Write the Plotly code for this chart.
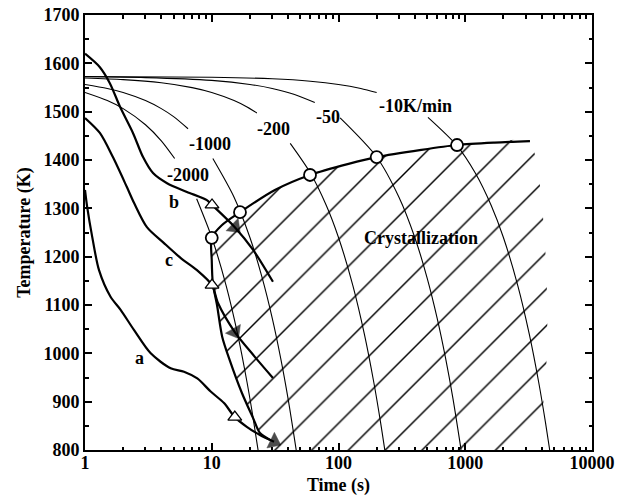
import math
import plotly.graph_objects as go

FONT = "Liberation Serif"

# ---- constant-rate cooling curves (thin), split where the labels sit ----
r2000_up_t = [1, 1.5, 2, 3, 4, 5.1]
r2000_up_T = [1539.7, 1523, 1506.3, 1473, 1439.7, 1403]
r2000_lo_t = [7.6, 10, 13, 16, 19, 21, 23.2]
r2000_lo_T = [1319.7, 1239.7, 1139.7, 1039.7, 939.7, 873, 799.7]

r1000_up_t = [1, 1.5, 2, 3, 4, 5, 6.5]
r1000_up_T = [1556.3, 1548, 1539.7, 1523, 1506.3, 1489.7, 1464.7]
r1000_lo_t = [10.2, 15, 20, 25, 30, 35, 40, 46.4]
r1000_lo_T = [1403, 1323, 1239.7, 1156.3, 1073, 989.7, 906.3, 799.7]

r200_up_t = [1, 2, 4, 7, 10, 15, 19, 22.7]
r200_up_T = [1569.7, 1566.3, 1559.7, 1549.7, 1539.7, 1523, 1509.7, 1497.3]
r200_lo_t = [41.6, 60, 80, 100, 130, 160, 190, 215, 232]
r200_lo_T = [1434.3, 1373, 1306.3, 1239.7, 1139.7, 1039.7, 939.7, 856.3, 799.7]

r50_up_t = [1, 3, 10, 20, 30, 45, 65]
r50_up_T = [1572.2, 1570.5, 1564.7, 1556.3, 1548, 1535.5, 1518.8]
r50_lo_t = [103, 200, 300, 400, 500, 600, 700, 800, 927]
r50_lo_T = [1487.2, 1406.3, 1323, 1239.7, 1156.3, 1073, 989.7, 906.3, 800.5]

r10_up_t = [1, 10, 30, 60, 100, 150, 200]
r10_up_T = [1572.8, 1571.3, 1568, 1563, 1556.3, 1548, 1539.7]
r10_lo_t = [508, 860, 1200, 1600, 2000, 2600, 3200, 3800, 4300, 4638]
r10_lo_T = [1488.3, 1429.7, 1373, 1306.3, 1239.7, 1139.7, 1039.7, 939.7, 856.3, 800]

# ---- crystallization start curve (thick) ----
cryst_t = [28.8, 24.0, 21.2, 17.3, 13.9, 12.1, 11.0, 10.2, 10.0, 10.0, 12.0, 16.7,
           31.5, 59.6, 120, 200, 450, 861, 1700, 3240]
cryst_T = [821, 835, 866, 918, 985, 1034, 1100, 1145, 1193, 1239, 1265, 1292,
           1338, 1369, 1392, 1406, 1421, 1431, 1436, 1439]

circ_t = [10.0, 16.7, 59.6, 200, 861]
circ_T = [1239, 1292, 1369, 1406, 1431]

# ---- measured cooling curves a, b, c (thick) ----
a_t = [1, 1.04, 1.14, 1.29, 1.59, 1.91, 2.44, 3.3, 4.74, 6.04, 7.69, 9.81, 12.5, 15.2, 18.9, 24, 31]
a_T = [1338, 1303, 1241, 1172, 1117, 1090, 1048, 1000, 969, 962, 948, 921, 897, 868, 848, 831, 817]
b_t = [1, 1.31, 1.57, 1.89, 2.39, 2.87, 3.44, 4.44, 6.37, 9.15, 10.05, 15.2, 21.2, 30.4]
b_T = [1620, 1592, 1559, 1510, 1456, 1406, 1373, 1352, 1334, 1317, 1307, 1261, 1214, 1148]
c_t = [1, 1.31, 1.66, 2.14, 2.44, 3.08, 4.2, 5.7, 7.65, 10.05, 11.2, 15.2, 21.2, 30.4]
c_T = [1487, 1456, 1406, 1344, 1311, 1261, 1228, 1197, 1172, 1141, 1104, 1044, 997, 949]

# index of open triangle (onset) and filled arrow in each curve
a_open, a_arrow = 13, 16
b_open, b_arrow = 10, 11
c_open, c_arrow = 9, 11

# ---- text labels (t, T) ----
lab_text = ["-2000", "-1000", "-200", "-50", "-10K/min", "Crystallization", "a", "b", "c"]
lab_t = [6.5, 9.68, 30.7, 82.7, 405, 448, 2.67, 5.03, 4.6]
lab_T = [1369, 1433, 1465, 1489, 1511, 1238, 990, 1313, 1193]

T_MIN, T_MAX = 800, 1700

fig = go.Figure()

# hatched crystallization region
hx = cryst_t + [cryst_t[-1], cryst_t[0]]
hy = cryst_T + [T_MIN, T_MIN]
fig.add_trace(go.Scatter(
    x=hx, y=hy, mode="lines", fill="toself", line=dict(width=0, shape="spline", smoothing=0.6),
    fillcolor="rgba(0,0,0,0)",
    fillpattern=dict(shape="/", size=26, solidity=0.055, fgcolor="black",
                     bgcolor="rgba(0,0,0,0)", fgopacity=1),
    hoverinfo="skip", showlegend=False))

thin = [(r2000_up_t, r2000_up_T), (r2000_lo_t, r2000_lo_T),
        (r1000_up_t, r1000_up_T), (r1000_lo_t, r1000_lo_T),
        (r200_up_t, r200_up_T), (r200_lo_t, r200_lo_T),
        (r50_up_t, r50_up_T), (r50_lo_t, r50_lo_T),
        (r10_up_t, r10_up_T), (r10_lo_t, r10_lo_T)]
for tx, ty in thin:
    fig.add_trace(go.Scatter(x=tx, y=ty, mode="lines",
                             line=dict(color="black", width=1.1, shape="spline", smoothing=0.8),
                             showlegend=False, hoverinfo="skip"))

for tx, ty in [(a_t, a_T), (b_t, b_T), (c_t, c_T), (cryst_t, cryst_T)]:
    fig.add_trace(go.Scatter(x=tx, y=ty, mode="lines",
                             line=dict(color="black", width=2.2, shape="spline", smoothing=0.8),
                             showlegend=False, hoverinfo="skip"))

# open circles
fig.add_trace(go.Scatter(x=circ_t, y=circ_T, mode="markers",
                         marker=dict(symbol="circle", size=12, color="white",
                                     line=dict(color="black", width=1.8)),
                         showlegend=False, hoverinfo="skip"))
# open triangles (onset)
fig.add_trace(go.Scatter(x=[a_t[a_open], b_t[b_open], c_t[c_open]],
                         y=[a_T[a_open], b_T[b_open], c_T[c_open]], mode="markers",
                         marker=dict(symbol="triangle-up", size=12, color="white",
                                     line=dict(color="black", width=1.3)),
                         showlegend=False, hoverinfo="skip"))
# filled arrows
for tx, ty, i in [(a_t, a_T, a_arrow), (b_t, b_T, b_arrow), (c_t, c_T, c_arrow)]:
    fig.add_trace(go.Scatter(x=[tx[i - 1], tx[i]], y=[ty[i - 1], ty[i]], mode="markers",
                             marker=dict(symbol="triangle-up", size=[0, 15], color="black",
                                         angleref="previous", line=dict(width=0.5, color="black")),
                             showlegend=False, hoverinfo="skip"))

for txt, t, T in zip(lab_text, lab_t, lab_T):
    fig.add_annotation(x=math.log10(t), y=T, text="<b>" + txt + "</b>", showarrow=False,
                       font=dict(family=FONT, size=18, color="black"))

minor_x = [m * 10 ** e for e in range(4) for m in range(2, 10)]

fig.update_layout(
    width=637, height=496,
    margin=dict(l=85, r=45, t=15, b=46, autoexpand=False),
    paper_bgcolor="white", plot_bgcolor="white",
    font=dict(family=FONT, size=18, color="black", weight="bold"),
    xaxis=dict(type="log", range=[0, 4], automargin=False,
               tickvals=[1, 10, 100, 1000, 10000],
               ticktext=["1", "10", "100", "1000", "10000"],
               ticks="inside", ticklen=7, tickwidth=1.5, tickcolor="black",
               ticklabelstandoff=-5,
               minor=dict(ticks="inside", ticklen=3.5, tickvals=minor_x, tickcolor="black"),
               showline=True, linecolor="black", linewidth=2, mirror="allticks",
               showgrid=False, zeroline=False,
               title=dict(text="Time (s)", standoff=10, font=dict(size=18, weight="bold"))),
    yaxis=dict(range=[T_MIN, T_MAX], dtick=100, automargin=False,
               ticks="inside", ticklen=7, tickwidth=1.5, tickcolor="black",
               minor=dict(ticks="inside", ticklen=3.5, dtick=50, tickcolor="black"),
               showline=True, linecolor="black", linewidth=2, mirror="allticks",
               showgrid=False, zeroline=False,
               title=dict(text="Temperature (K)", standoff=8, font=dict(size=18, weight="bold"))),
)

fig.write_html("out.html")
